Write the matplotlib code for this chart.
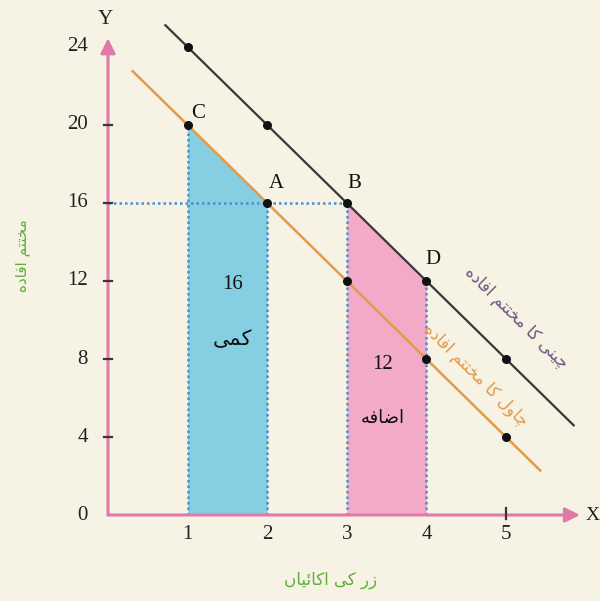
import matplotlib
matplotlib.use("Agg")
import matplotlib.pyplot as plt
from matplotlib.font_manager import findfont, FontProperties
from matplotlib.ft2font import FT2Font
import numpy as np

# ---- data ----
units = [1, 2, 3, 4, 5]
sugar_mu = [24, 20, 16, 12, 8]     # چینی کا مختتم افادہ
rice_mu = [20, 16, 12, 8, 4]       # چاول کا مختتم افادہ
x_ticks = [1, 2, 3, 4, 5]
y_ticks = [0, 4, 8, 12, 16, 20, 24]
loss_value = 16
gain_value = 12
point_names = ["C", "A", "B", "D"]
point_xy = [(1, 20), (2, 16), (3, 16), (4, 12)]

y_label = "مختتم افادہ"
x_label = "زر کی اکائیاں"
sugar_label = "چینی کا مختتم افادہ"
rice_label = "چاول کا مختتم افادہ"
loss_label = "کمی"
gain_label = "اضافہ"

# ---- minimal Arabic-script shaping (matplotlib has no complex text layout) ----
_forms = {
    '\u0627': (0xFE8D, 0xFE8E),
    '\u0626': (0xFE89, 0xFE8A, 0xFE8B, 0xFE8C),
    '\u062A': (0xFE95, 0xFE96, 0xFE97, 0xFE98),
    '\u062E': (0xFEA5, 0xFEA6, 0xFEA7, 0xFEA8),
    '\u062F': (0xFEA9, 0xFEAA),
    '\u0631': (0xFEAD, 0xFEAE),
    '\u0632': (0xFEAF, 0xFEB0),
    '\u0636': (0xFEBD, 0xFEBE, 0xFEBF, 0xFEC0),
    '\u0641': (0xFED1, 0xFED2, 0xFED3, 0xFED4),
    '\u0644': (0xFEDD, 0xFEDE, 0xFEDF, 0xFEE0),
    '\u0645': (0xFEE1, 0xFEE2, 0xFEE3, 0xFEE4),
    '\u0646': (0xFEE5, 0xFEE6, 0xFEE7, 0xFEE8),
    '\u0648': (0xFEED, 0xFEEE),
    '\u06A9': (0xFB8E, 0xFB8F, 0xFB90, 0xFB91),
    '\u06CC': (0xFBFC, 0xFBFD, 0xFBFE, 0xFBFF),
    '\u06C1': (0xFBA6, 0xFBA7, 0xFBA8, 0xFBA9),
    '\u0686': (0xFB7A, 0xFB7B, 0xFB7C, 0xFB7D),
    '\u06BA': (0xFB9E, 0xFB9F),
}
# substitutes if a presentation form is missing from the font
_subst = {
    '\u06A9': (0xFED9, 0xFEDA, 0xFEDB, 0xFEDC),
    '\u06CC': (0xFEEF, 0xFEF0, 0xFEF3, 0xFEF4),
    '\u06C1': (0xFEE9, 0xFEEA, 0xFEEB, 0xFEEC),
    '\u06BA': (0xFEE5, 0xFEE6),
}

_font = FT2Font(findfont(FontProperties(family="DejaVu Sans")))
_cmap = _font.get_charmap()


def _joins_left(ch):
    f = _forms.get(ch)
    return f is not None and len(f) == 4


def _joins(ch):
    return ch in _forms


def shape(text):
    out = []
    n = len(text)
    for i, ch in enumerate(text):
        if ch not in _forms:
            out.append(ch)
            continue
        prev = text[i - 1] if i > 0 else ' '
        nxt = text[i + 1] if i + 1 < n else ' '
        from_right = _joins_left(prev)
        to_left = _joins_left(ch) and _joins(nxt)
        if from_right and to_left:
            idx = 3
        elif to_left:
            idx = 2
        elif from_right:
            idx = 1
        else:
            idx = 0
        code = _forms[ch][idx]
        if code not in _cmap and ch in _subst:
            code = _subst[ch][min(idx, len(_subst[ch]) - 1)]
        if code not in _cmap:
            code = ord(ch)
        out.append(chr(code))
    return ''.join(reversed(out))


def line_through(xa, ya, xb, yb, xv):
    xv = np.asarray(xv, dtype=float)
    return ya + (xv - xa) * (yb - ya) / (xb - xa)


# ---- colours ----
bg = "#f6f2e4"
axis_pink = "#e07aa8"
orange = "#e39a4a"
dark = "#3c363c"
blue_fill = "#86cfe3"
pink_fill = "#f2aac8"
dot_blue = "#4b8fcf"
green = "#5fae3a"
purple = "#6e5a82"
urdu_font = ["DejaVu Sans"]
num_font = ["Liberation Serif", "DejaVu Serif"]

fig = plt.figure(figsize=(6.0, 6.01), dpi=100, facecolor=bg)
ax = fig.add_axes([0, 0, 1, 1])
ax.set_facecolor(bg)
ax.set_xlim(-1.357, 6.181)
ax.set_ylim(-4.41, 26.41)
ax.axis("off")

# shaded areas under the curves
ax.fill_between([units[0], units[1]], [rice_mu[0], rice_mu[1]], 0,
                color=blue_fill, lw=0, zorder=1)
ax.fill_between([units[2], units[3]], [sugar_mu[2], sugar_mu[3]], 0,
                color=pink_fill, lw=0, zorder=1)

# dotted guide lines
dot_style = dict(color=dot_blue, lw=1.8, ls=(0, (1, 1.2)), zorder=2)
for (px, py) in point_xy:
    ax.plot([px, px], [0, py], **dot_style)
ax.plot([0, point_xy[2][0]], [point_xy[2][1], point_xy[2][1]], **dot_style)

# marginal utility lines, extended a little past the marked points
xs = np.array([0.72, 5.85])
ax.plot(xs, line_through(units[0], sugar_mu[0], units[-1], sugar_mu[-1], xs),
        color=dark, lw=1.6, zorder=3)
xr = np.array([0.31, 5.43])
ax.plot(xr, line_through(units[0], rice_mu[0], units[-1], rice_mu[-1], xr),
        color=orange, lw=1.8, zorder=3)
ax.plot(units, sugar_mu, "o", color="#111111", ms=5.5, zorder=4)
ax.plot(units, rice_mu, "o", color="#111111", ms=5.5, zorder=4)

# axes with arrows
arrow = dict(arrowstyle="-|>", color=axis_pink, lw=2.2, mutation_scale=22,
             shrinkA=0, shrinkB=0)
ax.annotate("", xy=(5.93, 0), xytext=(0, 0), arrowprops=arrow, zorder=5)
ax.annotate("", xy=(0, 24.45), xytext=(0, 0), arrowprops=arrow, zorder=5)
for yt in y_ticks[1:-1]:
    ax.plot([-0.05, 0.05], [yt, yt], color=dark, lw=1.6, zorder=6)
ax.plot([5, 5], [-0.2, 0.35], color=dark, lw=1.6, zorder=6)

# tick labels
for yt in y_ticks:
    ax.text(-0.25, yt, str(yt), ha="right", va="center", fontsize=15,
            family=num_font, color="#222222")
for xt in x_ticks:
    ax.text(xt, -1.0, str(xt), ha="center", va="center", fontsize=15,
            family=num_font, color="#222222")
ax.text(6.085, 0, "X", ha="center", va="center", fontsize=14,
        family=num_font, color="#222222")
ax.text(-0.04, 25.4, "Y", ha="center", va="center", fontsize=15,
        family=num_font, color="#222222")

# point names
offsets = [(0.13, 0.6), (0.11, 1.0), (0.1, 1.0), (0.08, 1.1)]
for name, (px, py), (dx, dy) in zip(point_names, point_xy, offsets):
    ax.text(px + dx, py + dy, name, ha="center", va="center", fontsize=15,
            family=num_font, color="#111111")

# values of the shaded areas
ax.text(1.56, 11.8, str(loss_value), ha="center", va="center", fontsize=15,
        family=num_font, color="#111111")
ax.text(1.56, 9.0, shape(loss_label), ha="center", va="center", fontsize=15,
        family=urdu_font, color="#111111")
ax.text(3.45, 7.7, str(gain_value), ha="center", va="center", fontsize=15,
        family=num_font, color="#111111")
ax.text(3.45, 5.0, shape(gain_label), ha="center", va="center", fontsize=13,
        family=urdu_font, color="#111111")

# curve labels along the lines
ang = -np.degrees(np.arctan(4 * 19.5 / 79.6))
ax.text(5.13, 10.1, shape(sugar_label), rotation=ang, rotation_mode="anchor",
        ha="center", va="center", fontsize=12, family=urdu_font, color=purple)
ax.text(4.62, 7.2, shape(rice_label), rotation=ang, rotation_mode="anchor",
        ha="center", va="center", fontsize=12, family=urdu_font, color=orange)

# axis titles
ax.text(-1.08, 13.3, shape(y_label), rotation=90, ha="center", va="center",
        fontsize=11, family=urdu_font, color=green)
ax.text(2.8, -3.35, shape(x_label), ha="center", va="center",
        fontsize=12, family=urdu_font, color=green)

fig.savefig("out.png", dpi=100, facecolor=bg)
